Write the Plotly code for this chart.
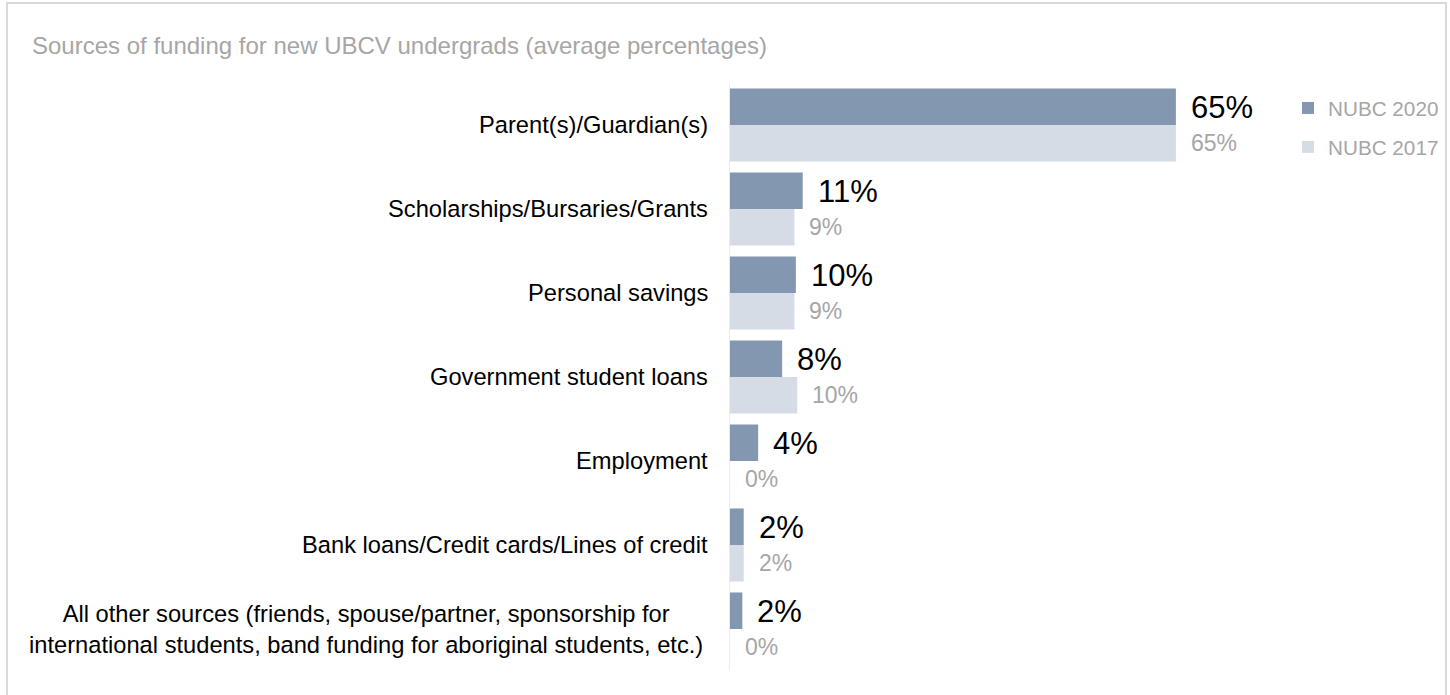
import plotly.graph_objects as go

categories = [
    "Parent(s)/Guardian(s)",
    "Scholarships/Bursaries/Grants",
    "Personal savings",
    "Government student loans",
    "Employment",
    "Bank loans/Credit cards/Lines of credit",
    "All other sources (friends, spouse/partner, sponsorship for<br>international students, band funding for aboriginal students, etc.)",
]
nubc_2020 = [65.0, 10.6, 9.6, 7.6, 4.1, 2.0, 1.8]
nubc_2017 = [65.0, 9.4, 9.4, 9.8, 0.0, 2.0, 0.0]
series_names = ["NUBC 2020", "NUBC 2017"]
title_text = "Sources of funding for new UBCV undergrads (average percentages)"

C2020 = "#8497b0"
C2017 = "#d6dce5"
GRAY = "#a6a6a6"
FONT = "Liberation Sans, Arial, sans-serif"

W, H = 1450, 695
ML, MR, MT, MB = 730, 34, 83, 24
PW = W - ML - MR
PH = H - MT - MB

def px_x(p):
    return (p - ML) / PW

def px_y(p):
    return (H - MB - p) / PH

fig = go.Figure()
fig.add_trace(go.Bar(y=categories, x=nubc_2020, orientation="h", name=series_names[0],
                     marker=dict(color=C2020, line=dict(width=0)), legendgroup="a",
                     hoverinfo="skip"))
fig.add_trace(go.Bar(y=categories, x=nubc_2017, orientation="h", name=series_names[1],
                     marker=dict(color=C2017, line=dict(width=0)), legendgroup="b",
                     hoverinfo="skip"))

annotations = []
for cat, v in zip(categories, nubc_2020):
    annotations.append(dict(x=v, y=cat, xref="x", yref="y", text=f"{v:.0f}%",
                            showarrow=False, xanchor="left", yanchor="middle",
                            xshift=13, yshift=18,
                            font=dict(family=FONT, size=31, color="#000000")))
for cat, v in zip(categories, nubc_2017):
    annotations.append(dict(x=v, y=cat, xref="x", yref="y", text=f"{v:.0f}%",
                            showarrow=False, xanchor="left", yanchor="middle",
                            xshift=13, yshift=-18,
                            font=dict(family=FONT, size=23, color=GRAY)))
for cat in categories:
    multi = "<br>" in cat
    annotations.append(dict(x=0, y=cat, xref="paper", yref="y", text=cat,
                            showarrow=False, xanchor="right", yanchor="middle",
                            xshift=-25 if multi else -20, align="center",
                            font=dict(family=FONT, size=23.7, color="#000000")))
annotations.append(dict(x=px_x(30), y=px_y(45), xref="paper", yref="paper", text=title_text,
                        showarrow=False, xanchor="left", yanchor="middle",
                        font=dict(family=FONT, size=24, color=GRAY)))

fig.update_layout(
    width=W, height=H, autosize=False,
    margin=dict(l=ML, r=MR, t=MT, b=MB, autoexpand=False),
    paper_bgcolor="white", plot_bgcolor="white",
    barmode="group", bargap=0.13, bargroupgap=0,
    hovermode=False,
    xaxis=dict(range=[0, 100], showgrid=False, zeroline=False, showticklabels=False,
               showline=False, ticks=""),
    yaxis=dict(autorange="reversed", showgrid=False, zeroline=False, showticklabels=False,
               showline=True, linecolor="#ececec", linewidth=1, ticks=""),
    legend=dict(x=px_x(1288), y=px_y(88), xanchor="left", yanchor="top",
                traceorder="grouped", tracegroupgap=9,
                font=dict(family=FONT, size=20.7, color=GRAY),
                bgcolor="rgba(0,0,0,0)"),
    annotations=annotations,
    shapes=[dict(type="rect", xref="paper", yref="paper",
                 x0=px_x(7), x1=px_x(1446), y0=px_y(702), y1=px_y(3),
                 line=dict(color="#d9d9d9", width=2), fillcolor="rgba(0,0,0,0)", layer="below")],
)

fig.write_html("out.html", config={"displayModeBar": False, "responsive": False},
               post_script="document.documentElement.style.overflow='hidden';"
                           "document.body.style.overflow='hidden';"
                           "document.body.style.margin='0';document.body.style.padding='0';")
